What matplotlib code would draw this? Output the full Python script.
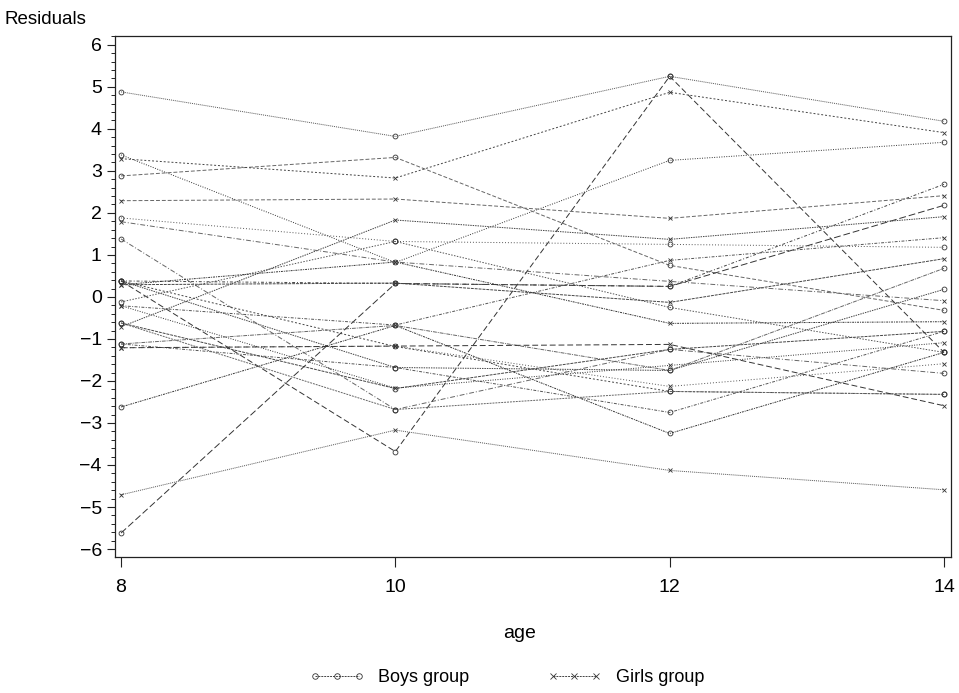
import matplotlib
matplotlib.use("Agg")
import matplotlib.pyplot as plt
from matplotlib.lines import Line2D
from matplotlib.ticker import MultipleLocator

plt.rcParams['font.family'] = ['Liberation Sans', 'DejaVu Sans']

ages = [8, 10, 12, 14]

# Residuals per subject (boys)
boys = [
    [3.38, 0.82, 3.25, 3.68],
    [-1.12, -1.68, -2.75, -0.82],
    [0.38, -1.68, -1.75, 0.18],
    [2.88, 3.32, 0.75, -0.32],
    [-2.62, -0.68, -3.25, -1.32],
    [1.88, 1.32, 1.25, 1.18],
    [-0.62, -2.18, -1.25, -0.82],
    [1.38, -2.68, -1.25, -1.82],
    [0.38, -3.68, 5.25, -1.32],
    [4.88, 3.82, 5.25, 4.18],
    [0.38, -1.18, -2.25, -2.32],
    [-1.12, -0.68, -1.75, 0.68],
    [-5.62, 0.32, 0.25, 2.18],
    [-0.12, 1.32, -0.25, -1.32],
    [0.38, 0.32, 0.25, 2.68],
    [-0.62, -2.68, -2.25, -2.32],
]

# Residuals per subject (girls)
girls = [
    [-0.21, -2.17, -1.63, -1.09],
    [-0.21, -0.67, 0.87, 1.41],
    [-0.71, 1.83, 1.37, 1.91],
    [2.29, 2.33, 1.87, 2.41],
    [0.29, 0.83, -0.63, -0.59],
    [-1.21, -1.17, -2.13, -1.59],
    [0.29, 0.33, -0.13, 0.91],
    [1.79, 0.83, 0.37, -0.09],
    [-1.21, -1.17, -1.13, -2.59],
    [-4.71, -3.17, -4.13, -4.59],
    [3.29, 2.83, 4.87, 3.91],
]

group_labels = ["Boys group", "Girls group"]

dash_styles = [
    (0, (1, 1.5)), (0, (3, 1.5, 1, 1.5)), (0, (1.5, 1)), (0, (4, 2)),
    (0, (2, 1, 1, 1)), (0, (1, 2)), (0, (3, 1)), (0, (5, 2, 1, 2)),
    (0, (6, 3)), (0, (1, 1)), (0, (2, 2)), (0, (4, 1, 1, 1)),
    (0, (7, 3)), (0, (1.5, 1.5)), (0, (3, 2, 1, 2)), (0, (2, 1)),
]
grays = ['#333333', '#555555', '#444444', '#666666']

fig = plt.figure(figsize=(9.59, 6.93), dpi=100)
ax = fig.add_axes([115 / 959, 1 - 557 / 693, (951 - 115) / 959, (557 - 36) / 693])

k = 0
for series in boys:
    ax.plot(ages, series, color=grays[k % 4], lw=0.7, linestyle=dash_styles[k % len(dash_styles)],
            marker='o', ms=3.5, mfc='none', mec='#333333', mew=0.6)
    k += 1
for series in girls:
    ax.plot(ages, series, color=grays[k % 4], lw=0.7, linestyle=dash_styles[k % len(dash_styles)],
            marker='x', ms=3.5, mec='#333333', mew=0.6)
    k += 1

ax.set_xlim(7.956, 14.051)
ax.set_ylim(-6.19, 6.21)
ax.set_xticks(ages)
ax.set_yticks(range(-6, 7))
ax.set_yticklabels([('\u2212' + str(-v)) if v < 0 else str(v) for v in range(-6, 7)])
ax.yaxis.set_minor_locator(MultipleLocator(0.2))
ax.tick_params(axis='both', direction='out', labelsize=14, width=0.8, color='#222222')
ax.tick_params(axis='y', which='major', length=6)
ax.tick_params(axis='y', which='minor', length=3, width=0.6)
ax.tick_params(axis='x', length=7, pad=9)
for s in ax.spines.values():
    s.set_linewidth(0.9)
    s.set_color('#222222')

fig.text(5 / 959, 1 - 19 / 693, "Residuals", fontsize=13.5, va='center', ha='left')
fig.text(520 / 959, 1 - 633 / 693, "age", fontsize=14, va='center', ha='center')

handles = [
    Line2D([0], [0], color='#444444', lw=0.7, linestyle=(0, (2, 1)), marker='o', ms=4,
           mfc='none', mec='#333333', mew=0.6),
    Line2D([0], [0], color='#444444', lw=0.7, linestyle=(0, (2, 1)), marker='x', ms=4,
           mec='#333333', mew=0.6),
]
fig.legend(handles, group_labels, loc='center', bbox_to_anchor=(507 / 959, 1 - 678 / 693),
           ncol=2, frameon=False, numpoints=3, handlelength=3.0, fontsize=13,
           columnspacing=4.3, handletextpad=0.8)

fig.savefig("out.png", dpi=100, facecolor='white')
